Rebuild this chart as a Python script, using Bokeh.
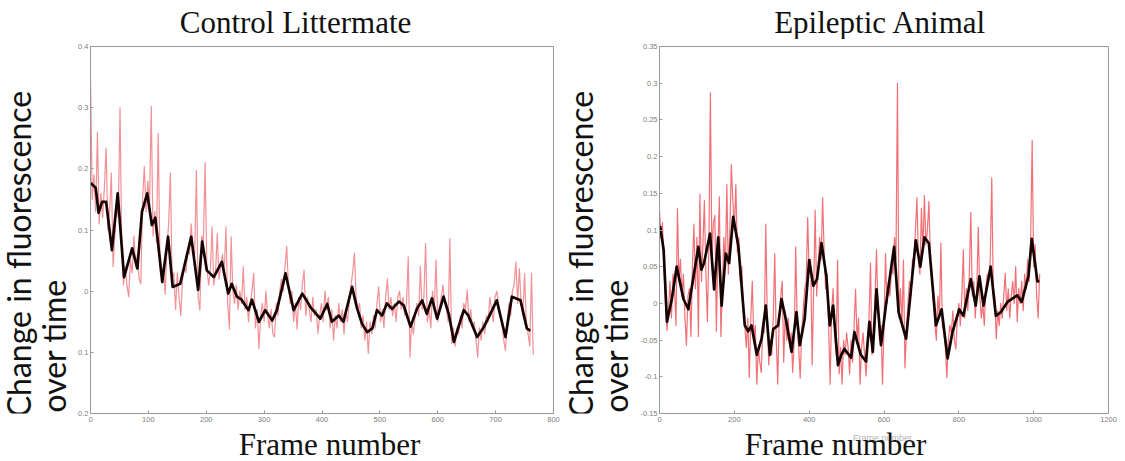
import math
import numpy as np
from bokeh.plotting import figure
from bokeh.layouts import row, column
from bokeh.models import FixedTicker, Range1d
from bokeh.core.properties import value
from bokeh.embed import file_html
from bokeh.resources import INLINE

# ---------------------------------------------------------------------------
# Control littermate
# smoothed trace (frame, change in fluorescence)
ctrl_smooth_frames = [0, 9, 14, 20, 27, 37, 47, 58, 72, 81, 89, 98, 106, 112, 124, 134, 142,
                      155, 174, 186, 193, 201, 213, 227, 238, 244, 253, 261, 273, 279, 291,
                      302, 314, 322, 337, 351, 366, 380, 397, 409, 417, 429, 437, 452, 460,
                      469, 478, 487, 495, 504, 512, 521, 533, 541, 553, 564, 573, 581, 590,
                      599, 610, 619, 628, 636, 645, 653, 668, 680, 694, 702, 717, 728, 743,
                      754, 760]
ctrl_smooth_values = [0.177, 0.169, 0.128, 0.146, 0.146, 0.067, 0.16, 0.023, 0.07, 0.037,
                      0.13, 0.16, 0.108, 0.12, 0.015, 0.089, 0.007, 0.012, 0.089, 0.002,
                      0.081, 0.034, 0.023, 0.048, -0.004, 0.012, -0.009, -0.014, -0.031,
                      -0.014, -0.05, -0.031, -0.048, -0.031, 0.029, -0.031, -0.004, -0.026,
                      -0.045, -0.021, -0.05, -0.04, -0.05, 0.007, -0.026, -0.053, -0.067,
                      -0.061, -0.031, -0.04, -0.02, -0.029, -0.017, -0.023, -0.058, -0.029,
                      -0.015, -0.037, -0.012, -0.045, -0.009, -0.037, -0.083, -0.058, -0.031,
                      -0.04, -0.075, -0.058, -0.031, -0.015, -0.075, -0.009, -0.015, -0.061,
                      -0.065]
# raw trace, one sample every 3 frames
ctrl_raw_step = 3
ctrl_raw_values = [
    0.35, 0.15, 0.19, 0.13, 0.26, 0.11, 0.16, 0.12, 0.17, 0.234,
    0.10, 0.13, 0.193, 0.04, 0.09, 0.14, 0.12, 0.30, 0.07, 0.01,
    0.04, 0.01, -0.009, 0.05, 0.03, 0.09, 0.04, 0.06, 0.02, 0.012,
    0.15, 0.204, 0.13, 0.18, 0.14, 0.302, 0.09, 0.13, 0.08, 0.258,
    0.05, 0.02, 0.04, -0.005, 0.07, 0.11, 0.193, 0.02, 0.03, -0.03,
    0.03, -0.01, -0.04, 0.02, 0.04, 0.03, 0.07, 0.06, 0.11, 0.07,
    0.06, 0.197, -0.01, -0.031, 0.09, 0.08, 0.21, 0.04, 0.01, 0.03,
    0.105, 0.01, 0.03, 0.094, 0.02, 0.04, 0.06, 0.03, 0.105, -0.02,
    -0.062, 0.089, 0.0, -0.02, 0.01, -0.03, 0.0, -0.02, 0.04, -0.03,
    -0.01, -0.05, -0.02, 0.0, 0.029, -0.06, -0.03, -0.094, -0.04, -0.02,
    -0.05, 0.0, -0.04, -0.06, -0.03, -0.07, -0.075, -0.02, -0.04, 0.0,
    0.02, 0.0, 0.04, 0.073, 0.01, -0.02, 0.0, -0.05, -0.02, -0.062,
    -0.01, -0.03, 0.01, 0.034, -0.04, -0.01, -0.03, -0.05, -0.01, -0.04,
    -0.03, -0.069, -0.04, -0.02, -0.05, 0.0, -0.03, -0.01, -0.06, -0.03,
    -0.08, -0.04, -0.06, -0.02, -0.05, -0.03, -0.07, -0.03, -0.05, -0.02,
    0.01, 0.03, 0.062, -0.01, -0.03, -0.02, -0.06, -0.04, -0.08, -0.05,
    -0.102, -0.05, -0.07, -0.04, -0.06, -0.02, 0.007, -0.05, -0.03, -0.06,
    -0.01, 0.02, -0.03, -0.01, -0.04, -0.02, -0.05, -0.01, 0.0, -0.03,
    -0.01, -0.04, -0.02, 0.056, -0.108, -0.05, -0.07, -0.04, -0.02, -0.04,
    0.04, -0.03, -0.01, 0.078, -0.05, -0.03, -0.06, 0.0, -0.03, 0.051,
    -0.05, -0.03, -0.01, 0.01, -0.02, -0.03, -0.05, 0.086, -0.085, -0.06,
    -0.09, -0.06, -0.07, -0.04, -0.06, -0.02, -0.03, 0.002, -0.05, -0.03,
    -0.06, -0.05, -0.08, -0.108, -0.06, -0.08, -0.05, -0.07, -0.04, -0.05,
    -0.01, -0.03, -0.05, -0.01, 0.0, -0.02, -0.04, -0.05, -0.08, -0.097,
    -0.05, -0.02, -0.04, 0.0, 0.01, 0.048, -0.02, 0.037, -0.02, -0.04,
    0.029, -0.05, -0.07, -0.09, 0.029, -0.104,
]
ctrl_x_ticks = [0, 100, 200, 300, 400, 500, 600, 700, 800]
ctrl_y_ticks = [-0.2, -0.1, 0, 0.1, 0.2, 0.3, 0.4]
ctrl_y_labels = ["0.2", "0.1", "0", "0.1", "0.2", "0.3", "0.4"]

# ---------------------------------------------------------------------------
# Epileptic animal
epi_smooth_frames = [0, 2, 11, 20, 33, 46, 64, 77, 91, 104, 112, 119, 135, 146, 157, 166, 177,
                     186, 197, 211, 228, 237, 246, 260, 273, 284, 295, 304, 317, 326, 339, 353,
                     366, 375, 388, 400, 411, 421, 433, 446, 455, 464, 477, 486, 494, 512, 521,
                     538, 552, 561, 570, 580, 592, 605, 627, 639, 659, 685, 697, 708, 720, 739,
                     754, 770, 783, 801, 812, 832, 845, 855, 866, 885, 899, 912, 930, 956, 968,
                     986, 995, 1010, 1015]
epi_smooth_values = [0.1, 0.104, 0.073, -0.025, 0.006, 0.05, 0.006, -0.008, 0.037, 0.077,
                     0.046, 0.055, 0.095, 0.019, 0.09, -0.003, 0.068, 0.055, 0.118, 0.077,
                     -0.03, -0.038, -0.03, -0.07, -0.048, -0.003, -0.07, -0.035, -0.03, 0.006,
                     -0.025, -0.066, -0.012, -0.057, -0.021, 0.059, 0.024, 0.033, 0.082, 0.037,
                     -0.03, -0.003, -0.084, -0.07, -0.062, -0.074, -0.039, -0.07, -0.079,
                     -0.025, -0.066, 0.019, -0.057, -0.003, 0.077, -0.012, -0.048, 0.086, 0.05,
                     0.09, 0.082, -0.03, -0.008, -0.075, -0.039, -0.008, -0.017, 0.033, -0.003,
                     0.037, -0.003, 0.05, -0.017, -0.012, 0.002, 0.011, 0.002, 0.037, 0.088,
                     0.03, 0.03]
# raw trace, one sample every 4 frames
epi_raw_step = 4
epi_raw_values = [
    0.127, 0.09, 0.11, 0.05, 0.0, -0.037, -0.01, 0.03, -0.02, 0.04,
    0.02, -0.03, 0.129, 0.03, 0.06, 0.01, 0.04, -0.02, -0.057, 0.01,
    0.02, -0.045, 0.05, 0.108, 0.02, 0.09, -0.045, 0.149, 0.03, 0.08,
    0.14, 0.04, -0.025, 0.08, 0.287, 0.06, 0.11, 0.12, -0.038, 0.07,
    0.145, -0.045, 0.02, 0.09, 0.05, 0.162, 0.04, 0.10, 0.189, 0.14,
    0.10, 0.162, 0.07, 0.09, 0.03, 0.05, -0.01, -0.03, -0.06, -0.02,
    -0.101, -0.02, 0.03, -0.05, -0.03, -0.11, -0.06, -0.08, -0.094, -0.03,
    -0.04, 0.108, -0.02, -0.084, -0.05, -0.07, -0.02, 0.068, -0.05, -0.11,
    -0.02, 0.01, 0.03, -0.08, -0.01, -0.05, -0.02, -0.06, -0.04, -0.094,
    -0.05, 0.077, -0.03, -0.06, -0.102, -0.04, -0.01, 0.02, 0.03, 0.117,
    0.04, 0.06, -0.084, 0.02, 0.127, 0.01, 0.05, 0.09, 0.06, 0.144,
    0.07, 0.02, 0.04, -0.03, -0.11, -0.01, 0.02, -0.04, -0.07, 0.059,
    -0.096, -0.06, -0.11, -0.05, -0.07, -0.04, -0.06, -0.096, -0.05, -0.08,
    -0.03, 0.019, -0.05, -0.02, -0.11, -0.06, -0.04, -0.07, -0.099, -0.06,
    -0.02, 0.055, -0.07, -0.04, 0.01, 0.073, -0.01, -0.05, -0.03, -0.11,
    -0.03, 0.068, 0.0, 0.03, 0.01, 0.05, 0.04, 0.09, 0.06, 0.30,
    -0.02, 0.02, -0.03, 0.059, -0.088, -0.04, 0.0, 0.03, 0.01, 0.06,
    0.05, 0.10, 0.144, 0.06, 0.04, 0.13, 0.07, 0.147, 0.08, 0.10,
    0.139, 0.06, 0.03, 0.0, -0.03, -0.05, 0.01, -0.02, 0.082, -0.03,
    -0.04, -0.06, -0.101, -0.05, -0.03, -0.04, -0.01, -0.05, -0.062, -0.02,
    0.0, -0.03, 0.01, 0.073, -0.02, 0.02, -0.01, 0.04, 0.124, 0.01,
    0.03, -0.02, 0.02, 0.104, 0.01, -0.02, 0.0, -0.03, 0.02, 0.04,
    0.03, 0.06, 0.171, 0.02, 0.01, -0.048, -0.01, -0.03, 0.0, -0.02,
    0.01, 0.041, -0.01, 0.02, -0.02, 0.01, 0.03, 0.0, 0.05, -0.025,
    0.02, 0.0, 0.03, -0.01, 0.04, 0.02, 0.06, 0.03, 0.09, 0.222,
    0.05, 0.08, 0.01, -0.02, 0.04,
]
epi_x_ticks = [0, 200, 400, 600, 800, 1000, 1200]
epi_y_ticks = [-0.15, -0.1, -0.05, 0, 0.05, 0.1, 0.15, 0.2, 0.25, 0.3, 0.35]
epi_y_labels = ["-0.15", "-0.1", "-0.05", "0", "0.05", "0.1", "0.15", "0.2", "0.25", "0.3", "0.35"]

AXIS_GREY = "#9a9a9a"
TICK_GREY = "#808080"
SERIF = "Liberation Serif"
SANS = "Lato"

TOP_H, MID_H, BOT_H = 39, 387, 35


def text_strip(w, h):
    """A bare figure whose frame fills the canvas, in pixel units."""
    f = figure(width=w, height=h, x_range=Range1d(0, w), y_range=Range1d(0, h),
               x_axis_type=None, y_axis_type=None, min_border=0,
               toolbar_location=None, output_backend="svg")
    f.outline_line_color = None
    f.background_fill_color = "white"
    f.border_fill_color = "white"
    f.grid.visible = False
    return f


def add_text(f, text, x, y_down, size, font, angle=0.0, align="left", color="#111111"):
    # y_down is measured from the top edge of the strip
    f.text(x=[x], y=[f.height - y_down], text=[text], angle=angle, text_align=align,
           text_baseline="alphabetic", text_font=value(font),
           text_font_size=value(size), text_color=color)


def panel(width, border_left, border_right, border_top, x_end, y_start, y_end,
          x_ticks, y_ticks, y_labels, smooth_f, smooth_v, raw_step, raw_v, raw_alpha):
    p = figure(width=width, height=MID_H, output_backend="svg", toolbar_location=None,
               x_range=Range1d(0, x_end), y_range=Range1d(y_start, y_end),
               min_border_left=border_left, min_border_right=border_right,
               min_border_top=border_top, min_border_bottom=13)
    p.background_fill_color = "white"
    p.border_fill_color = "white"
    p.grid.visible = False
    p.outline_line_color = AXIS_GREY
    p.outline_line_width = 1

    for ax in (p.xaxis[0], p.yaxis[0]):
        ax.axis_line_color = AXIS_GREY
        ax.major_tick_line_color = AXIS_GREY
        ax.major_tick_in = 3
        ax.major_tick_out = 0
        ax.minor_tick_line_color = None
        ax.major_label_text_font = "Liberation Sans"
        ax.major_label_text_font_size = "7.5px"
        ax.major_label_text_color = TICK_GREY
        ax.major_label_standoff = 2
    p.xaxis.major_label_standoff = 3
    p.xaxis.ticker = FixedTicker(ticks=x_ticks)
    p.yaxis.ticker = FixedTicker(ticks=y_ticks)
    p.yaxis.major_label_overrides = {t: s for t, s in zip(y_ticks, y_labels)}
    p.xaxis.major_label_overrides = {t: str(t) for t in x_ticks}

    raw_f = np.arange(len(raw_v)) * raw_step
    p.line(raw_f, raw_v, line_color="#e8232d", line_alpha=raw_alpha, line_width=1.2,
           line_join="round")
    p.line(smooth_f, smooth_v, line_color="#160303", line_width=2.7, line_join="round")
    return p


left = panel(487, 15, 9, 7, 800, -0.2, 0.4, ctrl_x_ticks, ctrl_y_ticks, ctrl_y_labels,
             ctrl_smooth_frames, ctrl_smooth_values, ctrl_raw_step, ctrl_raw_values, 0.5)
right = panel(488, 21, 17, 1, 1200, -0.15, 0.35, epi_x_ticks, epi_y_ticks, epi_y_labels,
              epi_smooth_frames, epi_smooth_values, epi_raw_step, epi_raw_values, 0.65)

# vertical axis captions (anchors sit a little below/left of the visible text start)
ylab_left = text_strip(75, MID_H)
add_text(ylab_left, "Change in fluorescence", 17.5, 391, "32px", SANS, angle=math.pi / 2)
add_text(ylab_left, "over time", 52.5, 386, "32px", SANS, angle=math.pi / 2)
ylab_right = text_strip(75, MID_H)
add_text(ylab_right, "Change in fluorescence", 17.5, 391, "32px", SANS, angle=math.pi / 2)
add_text(ylab_right, "over time", 52.5, 386, "32px", SANS, angle=math.pi / 2)

# panel titles
top = text_strip(1125, TOP_H)
add_text(top, "Control Littermate", 295, 21.5, "31px", SERIF, align="center")
add_text(top, "Epileptic Animal", 880, 21.5, "31px", SERIF, align="center")

# horizontal axis captions
bottom = text_strip(1125, BOT_H)
add_text(bottom, "Frame number", 882, 11, "9px", "Liberation Sans", align="center",
         color="#b4b4b4")
add_text(bottom, "Frame number", 329, 17.6, "31px", SERIF, align="center")
add_text(bottom, "Frame number", 835, 17.6, "31px", SERIF, align="center")

layout = column(top, row(ylab_left, left, ylab_right, right), bottom)
open("out.html", "w").write(file_html(layout, INLINE))
